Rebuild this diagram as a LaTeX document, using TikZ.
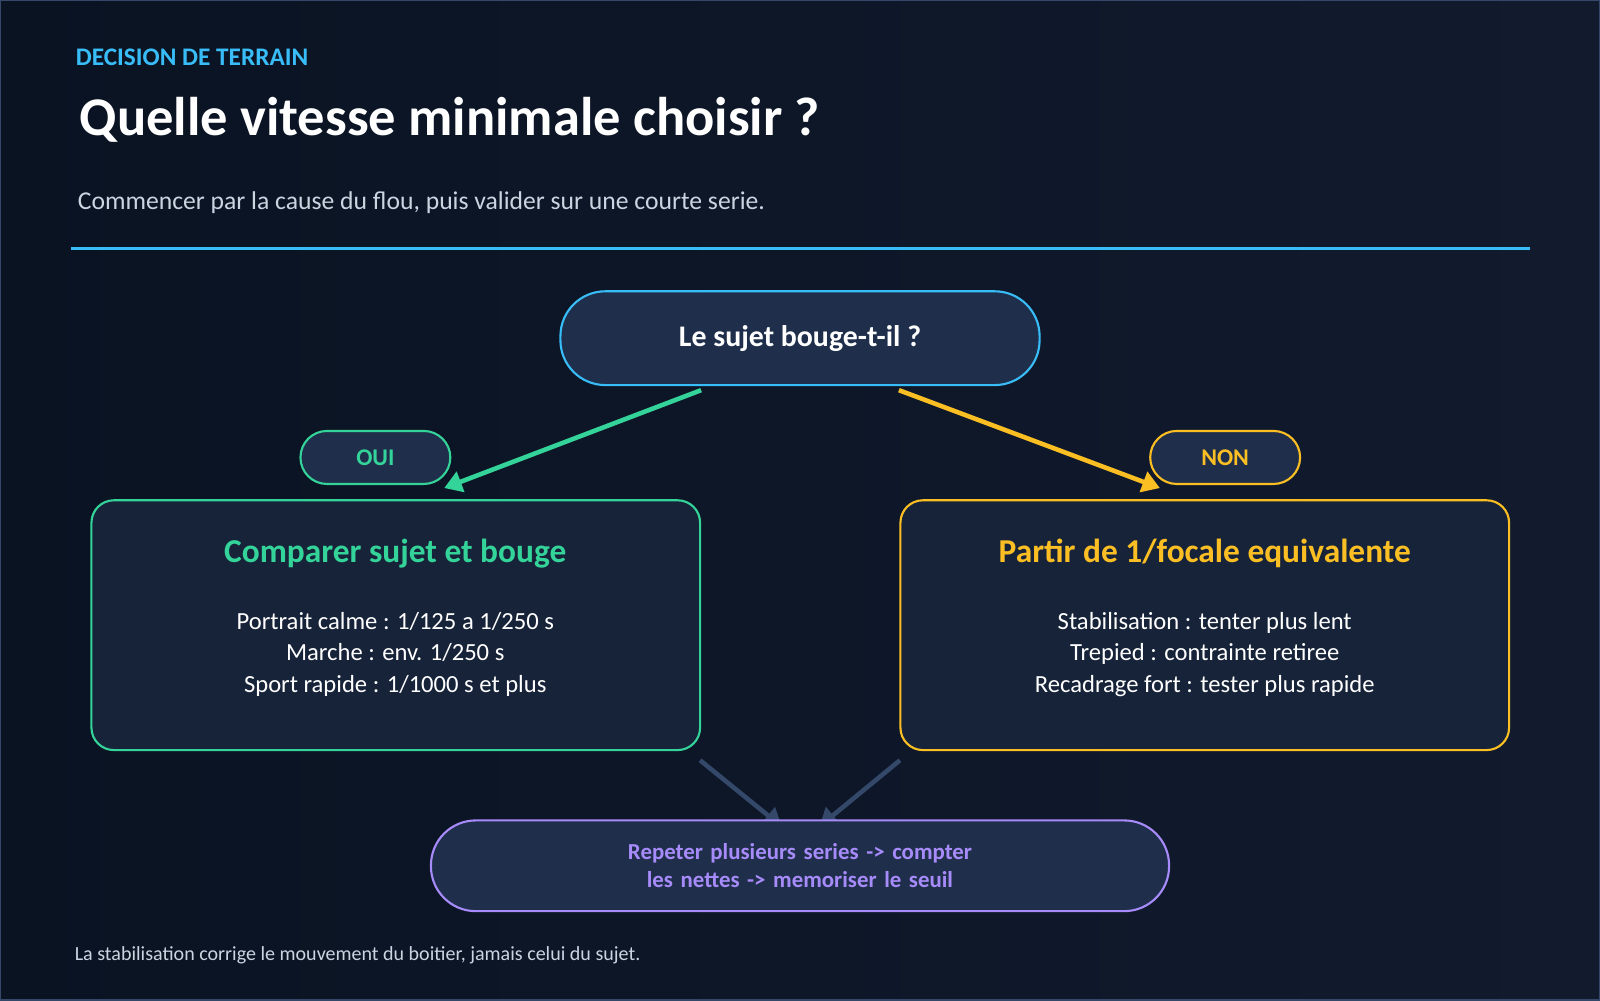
\documentclass[tikz,border=0pt]{standalone}
\usepackage{fontspec}
\setmainfont{Carlito}
\usetikzlibrary{positioning,arrows.meta,shapes}
\definecolor{bgA}{HTML}{0A1322}
\definecolor{bgB}{HTML}{121B2E}
\definecolor{sky}{HTML}{38BDF8}
\definecolor{mint}{HTML}{34D399}
\definecolor{amber}{HTML}{FBBF24}
\definecolor{lilac}{HTML}{A78BFA}
\definecolor{pillfill}{HTML}{1F2F4B}
\definecolor{boxfill}{HTML}{172339}
\definecolor{mutedtxt}{HTML}{CBD5E1}
\definecolor{linkgrey}{HTML}{34486A}
\newcommand{\fs}[2]{\fontsize{#1}{#2}\selectfont}
\tikzset{pill/.style={rounded corners=44*0.0102cm,fill=pillfill,line width=0.6pt,align=center,inner sep=0pt}}
\tikzset{tag/.style={rounded corners=26*0.0102cm,fill=pillfill,line width=0.6pt,minimum width=147*0.0102cm,minimum height=52*0.0102cm,font=\bfseries\fs{6.8pt}{8pt}}}
\tikzset{choice/.style={rounded corners=22*0.0102cm,fill=boxfill,line width=0.6pt,minimum width=597*0.0102cm,minimum height=245*0.0102cm}}
\tikzset{body/.style={text=white,align=center,font=\fs{7pt}{9pt}}}
\tikzset{link/.style={line width=1.3pt,-{Triangle[length=5pt,width=6pt]}}}
\tikzset{plain/.style={anchor=west,inner sep=0pt}}

\begin{document}
\begin{tikzpicture}[x=0.0102cm,y=-0.0102cm]
        \shade[left color=bgA,right color=bgB] (0,0) rectangle (1568,980);
        \draw[linkgrey,line width=0.4pt] (0,0) rectangle (1568,980);
        \useasboundingbox (0,0) rectangle (1568,980);

        % header
        \node[plain,text=sky,font=\bfseries\fs{7.2pt}{9pt}] (kicker) at (73,55) {DECISION DE TERRAIN};
        \node[plain,text=white,font=\bfseries\fs{15.5pt}{18pt}] (title) at (77,117) {Quelle vitesse minimale choisir ?};
        \node[plain,text=mutedtxt,font=\fs{7.3pt}{9pt}] (subtitle) at (75,198) {Commencer par la cause du flou, puis valider sur une courte serie.};
        \draw[sky,line width=1pt] (69,243) -- (1500,243);

        % question
        \node[pill,draw=sky,minimum width=470*0.0102cm,minimum height=92*0.0102cm,text=white,font=\bfseries\fs{8.5pt}{10pt}] (question) at (784,331) {Le sujet bouge-t-il ?};

        % branches
        \node[choice,draw=mint] (oui-box) at (387.5,612.5) {};
        \node[text=mint,font=\bfseries\fs{9.5pt}{11pt}] (oui-title) at (387,542) {Comparer sujet et bouge};
        \node[body] (oui-text) at (387,641) {Portrait calme : 1/125 a 1/250 s\\Marche : env. 1/250 s\\Sport rapide : 1/1000 s et plus};

        \node[choice,draw=amber] (non-box) at (1181,612.5) {};
        \node[text=amber,font=\bfseries\fs{9.5pt}{11pt}] (non-title) at (1181,542) {Partir de 1/focale equivalente};
        \node[body] (non-text) at (1181,641) {Stabilisation : tenter plus lent\\Trepied : contrainte retiree\\Recadrage fort : tester plus rapide};

        \coordinate (q-left) at (687,382);
        \coordinate (q-right) at (881,382);
        \coordinate (oui-in) at (435,478);
        \coordinate (non-in) at (1137,478);
        \draw[link,mint] (q-left) -- (oui-in);
        \draw[link,amber] (q-right) -- (non-in);
        \node[tag,draw=mint,text=mint] (oui) at (367.5,448) {OUI};
        \node[tag,draw=amber,text=amber] (non) at (1201,448) {NON};

        % conclusion
        \coordinate (oui-out) at (686,745);
        \coordinate (non-out) at (882,745);
        \draw[link,linkgrey] (oui-out) -- (766,810);
        \draw[link,linkgrey] (non-out) -- (803,810);
        \node[pill,draw=lilac,minimum width=724*0.0102cm,minimum height=89*0.0102cm,text=lilac,font=\bfseries\fs{6.5pt}{8pt},text width=640*0.0102cm] (repeat) at (784,848.5) {Repeter plusieurs series -> compter les nettes -> memoriser le seuil};

        \node[plain,text=mutedtxt,font=\fs{5.7pt}{7pt}] (footer) at (72,936) {La stabilisation corrige le mouvement du boitier, jamais celui du sujet.};
    \end{tikzpicture}
\end{document}
